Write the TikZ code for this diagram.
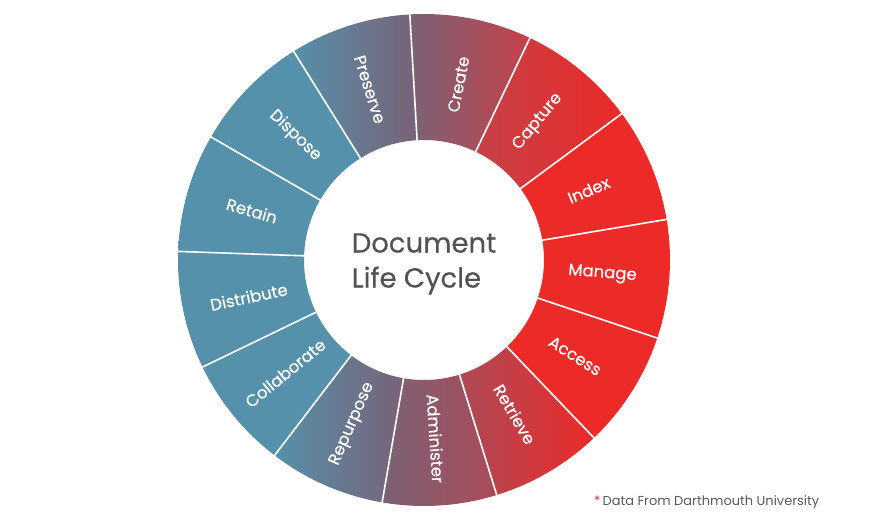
\documentclass[tikz,border=0pt]{standalone}
\usepackage{fontspec}
\setmainfont{Poppins}
\newfontfamily\ringfont{Poppins}[FakeBold=0.35]
\definecolor{titlegrey}{RGB}{82,82,84}
\definecolor{notegrey}{RGB}{90,90,92}
\definecolor{starred}{RGB}{232,40,38}
\definecolor{ringblue}{RGB}{86,145,171}
\definecolor{ringpurple}{RGB}{122,98,119}
\definecolor{ringrose}{RGB}{198,65,72}
\definecolor{ringmauve}{RGB}{172,75,87}
\definecolor{ringred}{RGB}{236,42,40}
\begin{document}
\begin{tikzpicture}[x=1pt,y=1pt,
  seglabel/.style={text=white,font=\ringfont\fontsize{16.5}{16.5}\selectfont,inner sep=0pt},
  divider/.style={white,line width=1.6pt},
  title/.style={text=titlegrey,font=\ringfont\fontsize{27.5}{35}\selectfont,align=left,inner sep=0pt},
  note/.style={text=notegrey,font=\fontsize{13}{13}\selectfont,inner sep=0pt}]
\useasboundingbox (-424,-264) rectangle (460,260);
% ring segments: start angle / end angle / left colour / right colour
\foreach \a/\b/\cl/\cr in {
    9.5/36.5/ringred/ringred, 36.5/64.5/ringrose/ringred,
    64.5/93.3/ringpurple/ringrose, 93.3/122/ringblue/ringpurple,
    122/150/ringblue/ringblue, 150/178/ringblue/ringblue,
    178/205.8/ringblue/ringblue, 205.8/232.6/ringblue/ringblue,
    232.6/260.2/ringblue/ringpurple, 260.2/287.2/ringpurple/ringmauve,
    287.2/313.7/ringmauve/ringred, 313.7/341.5/ringred/ringred,
    341.5/369.5/ringred/ringred}
  \shade[left color=\cl,right color=\cr]
    (\a:246) arc[start angle=\a,end angle=\b,radius=246]
    -- (\b:120) arc[start angle=\b,end angle=\a,radius=120] -- cycle;
% segment dividers
\foreach \a in {9.5,36.5,64.5,93.3,122,150,178,205.8,232.6,260.2,287.2,313.7,341.5}
  \draw[divider] (\a:119) -- (\a:247);
% segment labels: name / mid angle / rotation
\foreach \t/\m/\r in {Index/23/23, Capture/50.5/50.5, Create/78.9/78.9,
    Preserve/107.65/-72.35, Dispose/136/-44, Retain/164/-16,
    Distribute/191.9/11.9, Collaborate/219.2/39.2, Repurpose/246.4/66.4,
    Administer/273.7/-86.3, Retrieve/300.45/-59.55, Access/327.6/-32.4,
    Manage/355.5/-4.5}
  \node[seglabel,rotate=\r] (lbl-\t) at (\m:179) {\t};
% centre title
\node[title] (title) at (0,-4) {Document\\Life Cycle};
% source note
\node[note,anchor=base west] (source) at (170,-245)
  {\textcolor{starred}{*}\,Data From Darthmouth University};
\end{tikzpicture}
\end{document}
